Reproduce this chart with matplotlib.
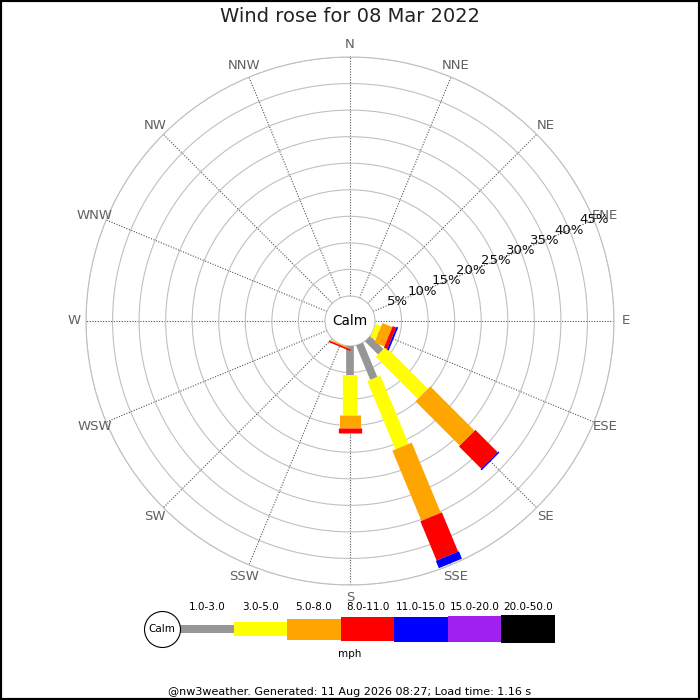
import numpy as np
import matplotlib
matplotlib.use("Agg")
import matplotlib.pyplot as plt
from matplotlib.patches import Rectangle

# ---------------- data ----------------
directions = ["N", "NNE", "NE", "ENE", "E", "ESE", "SE", "SSE",
              "S", "SSW", "SW", "WSW", "W", "WNW", "NW", "NNW"]
speed_classes = ["1.0-3.0", "3.0-5.0", "5.0-8.0", "8.0-11.0",
                 "11.0-15.0", "15.0-20.0", "20.0-50.0"]
class_colors = ["#969696", "#ffff00", "#ffa500", "#ff0000",
                "#0000ff", "#a020f0", "#000000"]
#                 N  NNE NE ENE E  ESE   SE    SSE   S    SSW   SW WSW W WNW NW NNW
freq_1_3   = [0, 0, 0, 0, 0, 0.0,  3.5,  7.0,  5.5, 0.0,  0, 0, 0, 0, 0, 0]
freq_3_5   = [0, 0, 0, 0, 0, 1.1, 11.2, 13.9,  7.5, 0.0,  0, 0, 0, 0, 0, 0]
freq_5_8   = [0, 0, 0, 0, 0, 2.0, 11.8, 14.3,  2.4, 0.2,  0, 0, 0, 0, 0, 0]
freq_8_11  = [0, 0, 0, 0, 0, 0.7,  5.9,  8.0,  1.0, 0.3,  0, 0, 0, 0, 0, 0]
freq_11_15 = [0, 0, 0, 0, 0, 0.35, 0.3,  1.5,  0.0, 0.0,  0, 0, 0, 0, 0, 0]
freq_15_20 = [0] * 16
freq_20_50 = [0] * 16
series = [freq_1_3, freq_3_5, freq_5_8, freq_8_11, freq_11_15, freq_15_20, freq_20_50]

ring_values = [5, 10, 15, 20, 25, 30, 35, 40, 45]
ring_labels = ["5%", "10%", "15%", "20%", "25%", "30%", "35%", "40%", "45%"]
title = "Wind rose for 08 Mar 2022"
footer = "@nw3weather. Generated: 11 Aug 2026 08:27; Load time: 1.16 s"
unit_label = "mph"
calm_label = "Calm"

# ---------------- styles ----------------
DPI = 100
PT = 72.0 / DPI
bar_px = [7.7, 14.3, 21.0, 23.3, 25.0, 26.3, 28.3]   # thickness per class (px)
R_MAX = 45
R_ORIGIN = -25.0 / (239.0 / 45.0)

fig = plt.figure(figsize=(7, 7), dpi=DPI)
fig.patch.set_facecolor("white")

ax = fig.add_axes([0.12286, 0.16429, 0.75429, 0.75429], projection="polar")
ax.set_theta_zero_location("N")
ax.set_theta_direction(-1)
ax.set_ylim(0, R_MAX)
ax.set_rorigin(R_ORIGIN)
ax.set_axisbelow(True)

angles_deg = np.arange(len(directions)) * 22.5
theta = np.deg2rad(angles_deg)

ax.set_thetagrids(angles_deg, labels=[""] * len(directions))
ax.set_rgrids(ring_values, labels=[""] * len(ring_values))
ax.xaxis.grid(True, color="#555555", linestyle=(0, (1, 1.4)), linewidth=0.8)
ax.yaxis.grid(True, color="#c0c0c0", linestyle="-", linewidth=0.8)
ax.tick_params(axis="both", length=0)
for name, sp in ax.spines.items():
    sp.set_color("#c0c0c0")
    sp.set_linewidth(0.8)

# stacked bars of constant pixel width
base = np.zeros(len(directions))
for vals, col, wpx in zip(series, class_colors, bar_px):
    vals = np.asarray(vals, dtype=float)
    for th, b, v in zip(theta, base, vals):
        if v > 0:
            ax.plot([th, th], [b, b + v], color=col, linewidth=wpx * PT,
                    solid_capstyle="butt", zorder=3)
    base = base + vals

# direction labels
for th, lab in zip(theta, directions):
    ax.text(th, 47.3, lab, ha="center", va="center", fontsize=9.5,
            color="#606060", clip_on=False)

# ring labels along ENE
for rv, rl in zip(ring_values, ring_labels):
    ax.text(np.deg2rad(67.5), rv, rl, ha="center", va="center",
            fontsize=9.5, color="#111111", clip_on=False, zorder=4)

ax.text(0.5, 0.5, calm_label, transform=ax.transAxes, ha="center",
        va="center", fontsize=9.8, color="black")

# title and footer
fig.text(0.5, 1 - 17 / 700, title, ha="center", va="center",
         fontsize=14, color="#222222")
fig.text(0.5, 1 - 692 / 700, footer, ha="center", va="center",
         fontsize=8, color="black")
fig.text(0.5, 1 - 654 / 700, unit_label, ha="center", va="center",
         fontsize=7.5, color="black")

# legend
lax = fig.add_axes([180 / 700, (700 - 629 - 20) / 700, 375 / 700, 40 / 700])
lax.set_xlim(0, len(speed_classes))
lax.set_ylim(-20, 20)
lax.axis("off")
idx = np.arange(len(speed_classes))
hts = np.array(bar_px)
lax.bar(idx, hts, bottom=-hts / 2, width=1.0, align="edge",
        color=class_colors, linewidth=0)
for i, lab in enumerate(speed_classes):
    lax.text(i + 0.5, 21.5, lab, ha="center", va="center", fontsize=7.5,
             color="black", clip_on=False)
seg_px = 375 / len(speed_classes)
calm_x = (161.7 - 180) / seg_px
lax.scatter([calm_x], [0], s=(36 * PT) ** 2, facecolor="white",
            edgecolor="black", linewidth=0.8, clip_on=False, zorder=3)
lax.text(calm_x, 0, calm_label, ha="center", va="center", fontsize=7.5,
         color="black", zorder=4, clip_on=False)

# figure border
fig.add_artist(Rectangle((0, 0), 1, 1, transform=fig.transFigure,
                         fill=False, edgecolor="black", linewidth=3))

fig.savefig("out.png", dpi=DPI, facecolor="white")
